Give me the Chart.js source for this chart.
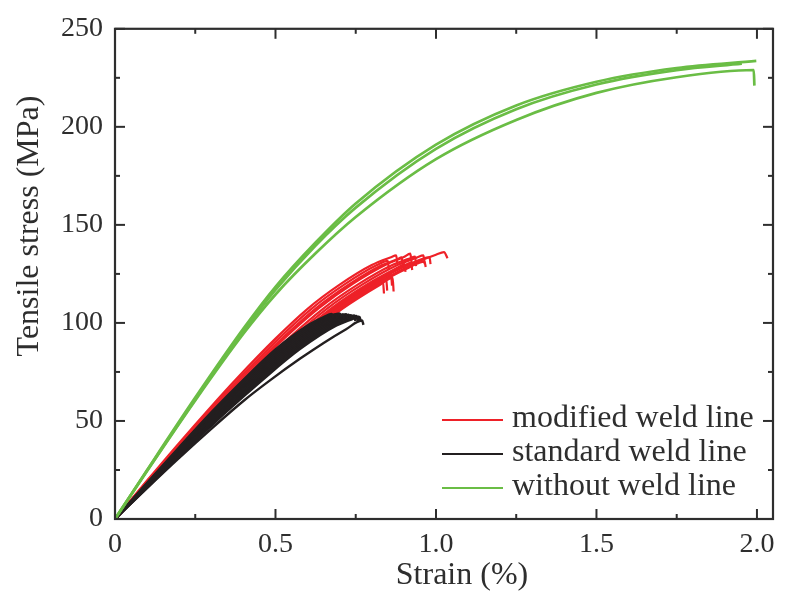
<!DOCTYPE html>
<html>
<head>
<meta charset="utf-8">
<script src="https://cdn.jsdelivr.net/npm/chart.js@4.4.1/dist/chart.umd.min.js"></script>
<style>
html,body{margin:0;padding:0;background:#fff;}
#wrap{width:785px;height:595px;}
</style>
</head>
<body>
<div id="wrap"><canvas id="c" width="785" height="595"></canvas></div>
<script>
// ---- tick values / labels ----
const xMajor = [0, 0.5, 1.0, 1.5, 2.0];
const xTickLabels = ['0', '0.5', '1.0', '1.5', '2.0'];
const xMinor = [0.25, 0.75, 1.25, 1.75];
const yMajor = [0, 50, 100, 150, 200, 250];
const yTickLabels = ['0', '50', '100', '150', '200', '250'];
const yMinor = [25, 75, 125, 175, 225];
const xTitle = 'Strain (%)';
const yTitle = 'Tensile stress (MPa)';

const seriesNames = ['modified weld line', 'standard weld line', 'without weld line'];
const seriesColors = ['#ee2128', '#231f20', '#6abd45'];

// ---- without weld line (green), [strain %, stress MPa] ----
const green1 = [[0,0],[0.1,25],[0.25,61.9],[0.4,97.1],[0.5,118.4],[0.625,141],[0.75,160.9],[1.0,190.9],[1.25,210.9],[1.5,223],[1.75,230],[1.998,233.6]];
const green2 = [[0,0],[0.1,24.7],[0.25,61],[0.4,95.8],[0.5,116.8],[0.625,139.5],[0.75,158.8],[1.0,188.8],[1.25,209],[1.5,221.6],[1.75,228.9],[1.953,232.2]];
const green3 = [[0,0],[0.1,24.5],[0.25,60.5],[0.4,94.5],[0.5,114.5],[0.625,135.5],[0.75,154],[1.0,183.5],[1.25,203.5],[1.5,217.3],[1.75,225.3],[1.99,229],[1.992,221]];

// ---- standard weld line (black) ----
const black1 = [[0,0],[0.1,18.4],[0.2,36.6],[0.3,54.4],[0.4,71],[0.5,86.5],[0.6,98.7],[0.65,103],[0.675,104.6],[0.68,102.5]];
const black2 = [[0,0],[0.1015,18.4],[0.203,36.6],[0.3045,54.4],[0.406,71],[0.5075,86.5],[0.609,98.7],[0.66,103],[0.688,104.5],[0.692,102]];
const black3 = [[0,0],[0.103,18.4],[0.206,36.6],[0.309,54.4],[0.412,71],[0.515,86.5],[0.618,98.7],[0.67,103],[0.7,104.8],[0.705,102.8]];
const black4 = [[0,0],[0.1045,18.4],[0.209,36.6],[0.3135,54.4],[0.418,71],[0.5225,86.5],[0.627,98.7],[0.68,103],[0.71,104.3],[0.714,102]];
const black5 = [[0,0],[0.106,18.4],[0.212,36.6],[0.318,54.4],[0.424,71],[0.53,86.5],[0.636,98.7],[0.69,103],[0.72,104.5],[0.725,102]];
const black6 = [[0,0],[0.1075,18.4],[0.215,36.6],[0.3225,54.4],[0.43,71],[0.5375,86.5],[0.645,98.7],[0.7,103],[0.728,104.2],[0.732,101.5]];
const black7 = [[0,0],[0.109,18.4],[0.218,36.6],[0.327,54.4],[0.436,71],[0.545,86.5],[0.654,98.7],[0.71,103],[0.735,104],[0.74,101.5]];
const black8 = [[0,0],[0.1105,18.4],[0.221,36.6],[0.3315,54.4],[0.442,71],[0.5525,86.5],[0.663,98.7],[0.72,102.8],[0.745,103.8],[0.749,101]];
const black9 = [[0,0],[0.112,18.4],[0.224,36.6],[0.336,54.4],[0.448,71],[0.56,86.5],[0.672,98.7],[0.73,102.8],[0.752,103.5],[0.756,101]];
const black10 = [[0,0],[0.1135,18.4],[0.227,36.6],[0.3405,54.4],[0.454,71],[0.5675,86.5],[0.681,98.7],[0.735,102.2],[0.758,103.2],[0.762,100.5]];
const black11 = [[0,0],[0.115,18.4],[0.23,36.6],[0.345,54.4],[0.46,71],[0.575,86.5],[0.69,98.7],[0.74,102],[0.762,103],[0.766,100.5]];
const black12 = [[0,0],[0.1,15.8],[0.2,31.2],[0.3,46],[0.4,60.2],[0.487,71.2],[0.577,81.8],[0.65,89.8],[0.72,96.8],[0.77,101.2],[0.774,99]];

// ---- modified weld line (red) ----
const red1 = [[0,0],[0.1,19.6],[0.2,38.8],[0.3,57.4],[0.375,70.9],[0.5,92],[0.6,107.2],[0.7,119.5],[0.8,129.5],[0.86,133.5],[0.876,134.4],[0.88,130]];
const red2 = [[0,0],[0.102,19.6],[0.204,38.8],[0.306,57.4],[0.383,70.9],[0.51,92],[0.612,107.2],[0.714,119.5],[0.816,129.5],[0.85,131.6],[0.853,127]];
const red3 = [[0,0],[0.104,19.6],[0.208,38.8],[0.312,57.4],[0.39,70.9],[0.52,92],[0.624,107.2],[0.728,119.5],[0.832,129.5],[0.88,132.5],[0.893,133.5],[0.897,129]];
const red4 = [[0,0],[0.106,19.7],[0.212,39],[0.318,57.7],[0.4,71.3],[0.53,92.5],[0.636,107.7],[0.742,120.1],[0.848,130.1],[0.9,133.6],[0.92,135.3],[0.924,131]];
const red5 = [[0,0],[0.108,19.6],[0.216,38.8],[0.324,57.4],[0.405,70.9],[0.54,92],[0.648,107.2],[0.756,119.5],[0.864,129.5],[0.92,133],[0.935,133.8],[0.938,129]];
const red6 = [[0,0],[0.11,19.6],[0.22,38.8],[0.33,57.4],[0.413,70.9],[0.55,92],[0.66,107.2],[0.77,119.5],[0.88,129.5],[0.94,133.3],[0.961,134.4],[0.965,130]];
const red7 = [[0,0],[0.112,19.6],[0.224,38.8],[0.336,57.4],[0.42,70.9],[0.56,92],[0.672,107.2],[0.784,119.5],[0.896,129.5],[0.902,130],[0.905,126]];
const red8 = [[0,0],[0.113,19.6],[0.226,38.8],[0.339,57.4],[0.424,70.9],[0.565,92],[0.678,107.2],[0.791,119.5],[0.904,129.5],[0.922,130.8],[0.926,127]];
const red9 = [[0,0],[0.114,19.4],[0.229,38.4],[0.343,56.8],[0.429,70.2],[0.572,91.1],[0.686,106.1],[0.801,118.3],[0.915,128.2],[0.964,131.3],[0.968,128.5]];
const red10 = [[0,0],[0.114,19.6],[0.228,38.8],[0.342,57.4],[0.428,70.9],[0.57,92],[0.684,107.2],[0.798,119.5],[0.912,129.5],[0.98,133.5],[0.983,130]];
const red11 = [[0,0],[0.115,19.6],[0.23,38.8],[0.345,57.4],[0.431,70.9],[0.575,92],[0.69,107.2],[0.805,119.5],[0.86,124.5],[0.863,119]];
const red12 = [[0,0],[0.116,19.6],[0.232,38.8],[0.348,57.4],[0.435,70.9],[0.58,92],[0.696,107.2],[0.812,119.5],[0.845,122.3],[0.848,116.5]];
const red13 = [[0,0],[0.117,19.6],[0.235,38.8],[0.352,57.4],[0.44,70.9],[0.587,92],[0.704,107.2],[0.8,117.5],[0.835,120.8],[0.838,115]];
const red14 = [[0,0],[0.118,19.6],[0.236,38.8],[0.354,57.4],[0.443,70.9],[0.59,92],[0.708,107.2],[0.826,119.5],[0.865,123],[0.868,116]];
const red15 = [[0,0],[0.118,19.9],[0.236,39.3],[0.354,58.1],[0.443,71.8],[0.59,93.2],[0.708,108.6],[0.826,121],[0.944,131.2],[1.0,134.8],[1.025,136.1],[1.036,133]];

const redCurves = [red1, red2, red3, red4, red5, red6, red7, red8, red9, red10, red11, red12, red13, red14, red15];
const blackCurves = [black1, black2, black3, black4, black5, black6, black7, black8, black9, black10, black11, black12];
const greenCurves = [green1, green2, green3];

function mk(points, color, width, order) {
  return {
    data: points.map(p => ({x: p[0], y: p[1]})),
    borderColor: color,
    borderWidth: width,
    pointRadius: 0,
    showLine: true,
    fill: false,
    cubicInterpolationMode: 'monotone',
    order: order
  };
}

const datasets = [];
greenCurves.forEach(c => datasets.push(mk(c, seriesColors[2], 2.7, 0)));
blackCurves.forEach(c => datasets.push(mk(c, seriesColors[1], 2.4, 1)));
redCurves.forEach(c => datasets.push(mk(c, seriesColors[0], 2.2, 2)));

const AX = '#2e2e2e';
const FONT = "'Liberation Serif', 'Times New Roman', serif";

const framePlugin = {
  id: 'frame',
  afterDraw(chart) {
    const ctx = chart.ctx;
    const a = chart.chartArea;
    const xs = chart.scales.x, ys = chart.scales.y;
    ctx.save();
    ctx.strokeStyle = AX;
    ctx.lineWidth = 2;
    ctx.lineCap = 'butt';
    const tick = (x1, y1, x2, y2) => { ctx.beginPath(); ctx.moveTo(x1, y1); ctx.lineTo(x2, y2); ctx.stroke(); };
    xMajor.forEach(v => { const p = xs.getPixelForValue(v); tick(p, a.bottom, p, a.bottom - 10); tick(p, a.top, p, a.top + 10); });
    xMinor.forEach(v => { const p = xs.getPixelForValue(v); tick(p, a.bottom, p, a.bottom - 5); tick(p, a.top, p, a.top + 5); });
    yMajor.forEach(v => { const p = ys.getPixelForValue(v); tick(a.left, p, a.left + 10, p); tick(a.right, p, a.right - 10, p); });
    yMinor.forEach(v => { const p = ys.getPixelForValue(v); tick(a.left, p, a.left + 5, p); tick(a.right, p, a.right - 5, p); });
    ctx.lineWidth = 2.2;
    ctx.strokeRect(a.left, a.top, a.right - a.left, a.bottom - a.top);
    // axis titles
    ctx.fillStyle = AX;
    ctx.font = '32px ' + FONT;
    ctx.textAlign = 'center';
    ctx.textBaseline = 'middle';
    ctx.fillText(xTitle, 462, 576);
    ctx.save();
    ctx.translate(30, 226);
    ctx.rotate(-Math.PI / 2);
    ctx.fillText(yTitle, 0, 0);
    ctx.restore();
    // legend
    const legX1 = 442, legX2 = 503, legText = 512;
    const rowsY = [420, 454, 488];
    ctx.textAlign = 'left';
    seriesNames.forEach((name, i) => {
      ctx.strokeStyle = seriesColors[i];
      ctx.lineWidth = 2;
      tick(legX1, rowsY[i], legX2, rowsY[i]);
      ctx.fillStyle = AX;
      ctx.fillText(name, legText, rowsY[i] - 1);
    });
    ctx.restore();
  }
};

new Chart(document.getElementById('c'), {
  type: 'scatter',
  data: { datasets: datasets },
  options: {
    responsive: false,
    animation: false,
    devicePixelRatio: 1,
    layout: { padding: { top: 28, right: 12, left: 0, bottom: 0 } },
    plugins: { legend: { display: false }, tooltip: { enabled: false } },
    scales: {
      x: {
        type: 'linear', min: 0, max: 2.05,
        afterFit: s => { s.height = 76; },
        afterBuildTicks: s => { s.ticks = xMajor.map(v => ({value: v})); },
        grid: { display: false, drawTicks: false },
        border: { display: false },
        ticks: {
          padding: 9,
          color: AX,
          font: { family: FONT, size: 28 },
          maxRotation: 0,
          callback: v => { const i = xMajor.indexOf(v); return i >= 0 ? xTickLabels[i] : ''; }
        },
        title: { display: false }
      },
      y: {
        type: 'linear', min: 0, max: 250,
        afterFit: s => { s.width = 115; },
        afterBuildTicks: s => { s.ticks = yMajor.map(v => ({value: v})); },
        grid: { display: false, drawTicks: false },
        border: { display: false },
        ticks: {
          padding: 12,
          color: AX,
          font: { family: FONT, size: 28 },
          callback: v => { const i = yMajor.indexOf(v); return i >= 0 ? yTickLabels[i] : ''; }
        },
        title: { display: false }
      }
    }
  },
  plugins: [framePlugin]
});
</script>
</body>
</html>
